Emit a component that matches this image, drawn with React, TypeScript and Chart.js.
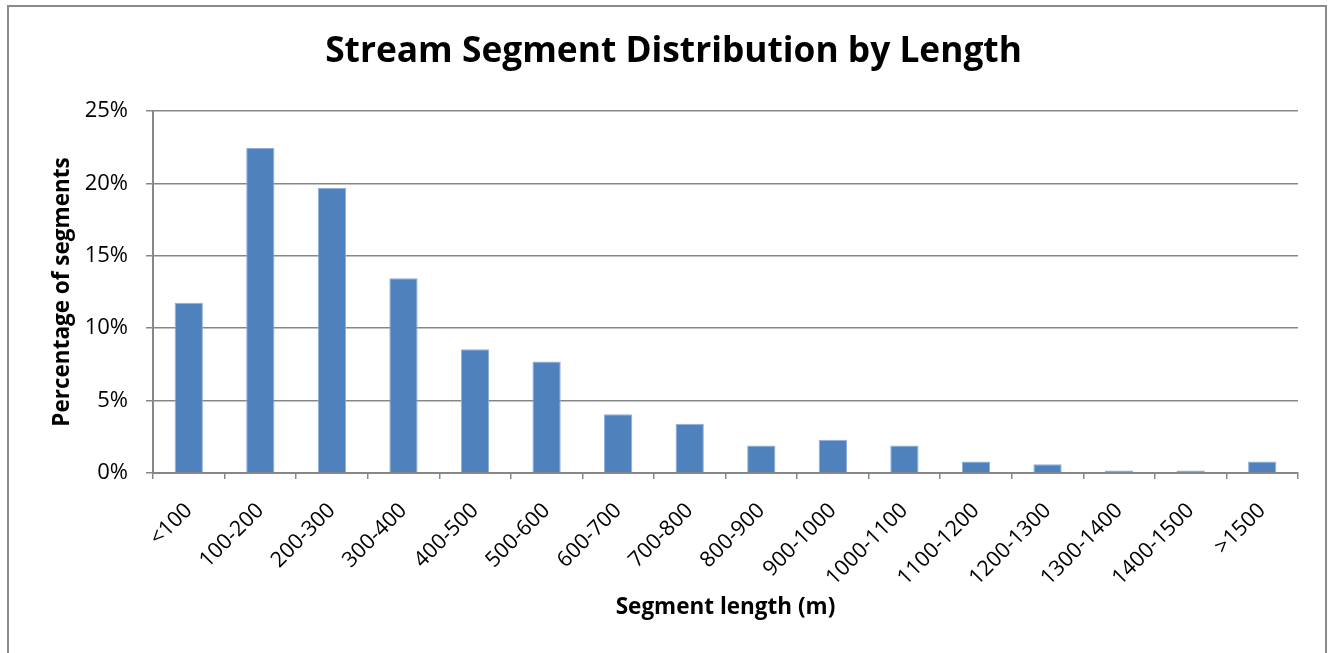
import React, { useEffect, useRef } from "react";
import { Chart, registerables } from "chart.js";

Chart.register(...registerables);

const categories = ["<100", "100-200", "200-300", "300-400", "400-500", "500-600", "600-700", "700-800", "800-900", "900-1000", "1000-1100", "1100-1200", "1200-1300", "1300-1400", "1400-1500", ">1500"];
const percentages = [11.75, 22.45, 19.7, 13.45, 8.55, 7.7, 4.05, 3.4, 1.9, 2.3, 1.9, 0.8, 0.6, 0.17, 0.17, 0.8];
const yTicks = [0, 5, 10, 15, 20, 25];
const chartTitle = "Stream Segment Distribution by Length";
const xTitle = "Segment length (m)";
const yTitle = "Percentage of segments";

const FONT = "'Open Sans', sans-serif";
const GRID = "#878787";

export default function App() {
  const ref = useRef<HTMLCanvasElement>(null);
  useEffect(() => {
    document.body.style.overflow = "hidden";
    const chart = new Chart(ref.current!, {
      type: "bar",
      data: {
        labels: categories,
        datasets: [
          {
            data: percentages,
            backgroundColor: "#4F81BD",
            borderColor: "#8FAEDB",
            borderWidth: 1,
            categoryPercentage: 1,
            barPercentage: 0.395,
          },
        ],
      },
      options: {
        animation: false,
        responsive: false,
        layout: { padding: { left: 40, right: 27, top: 0, bottom: 0 } },
        plugins: {
          legend: { display: false },
          tooltip: { enabled: false },
          title: {
            display: true,
            text: chartTitle,
            color: "#000",
            font: { family: FONT, size: 35.3, weight: "bold", lineHeight: 1.2 },
            padding: { top: 24, bottom: 37.6 },
          },
        },
        scales: {
          x: {
            afterFit: (s: any) => { s.height = 190; },
            grid: { display: true, drawOnChartArea: false, drawTicks: true, tickLength: 6, offset: true, color: GRID, lineWidth: 1.5 },
            border: { display: true, color: GRID, width: 2 },
            ticks: {
              autoSkip: false,
              minRotation: 45,
              maxRotation: 45,
              color: "#000",
              padding: 19,
              font: { family: FONT, size: 21.5 },
            },
            title: {
              display: true,
              text: xTitle,
              color: "#000",
              font: { family: FONT, size: 22.5, weight: "bold", lineHeight: 1.2 },
              padding: { top: 0, bottom: 42 },
            },
          },
          y: {
            min: 0,
            max: 25,
            afterFit: (s: any) => { s.width = 104; },
            afterBuildTicks: (s: any) => { s.ticks = yTicks.map((v) => ({ value: v })); },
            grid: { color: GRID, lineWidth: 1.5, tickLength: 7, drawTicks: true },
            border: { display: true, color: GRID, width: 2 },
            ticks: {
              color: "#000",
              padding: 18,
              font: { family: FONT, size: 22 },
              callback: (v: any) => v + "%",
            },
            title: {
              display: true,
              text: yTitle,
              color: "#000",
              font: { family: FONT, size: 22.5, weight: "bold", lineHeight: 1.2 },
              padding: { top: 0, bottom: 0 },
            },
          },
        },
      },
    });
    return () => chart.destroy();
  }, []);
  return (
    <div
      style={{
        position: "absolute",
        left: 7,
        top: 5,
        width: 1316,
        height: 656,
        border: "2px solid #8a8a8a",
        background: "#fff",
      }}
    >
      <canvas ref={ref} width={1316} height={656} style={{ display: "block" }} />
    </div>
  );
}
